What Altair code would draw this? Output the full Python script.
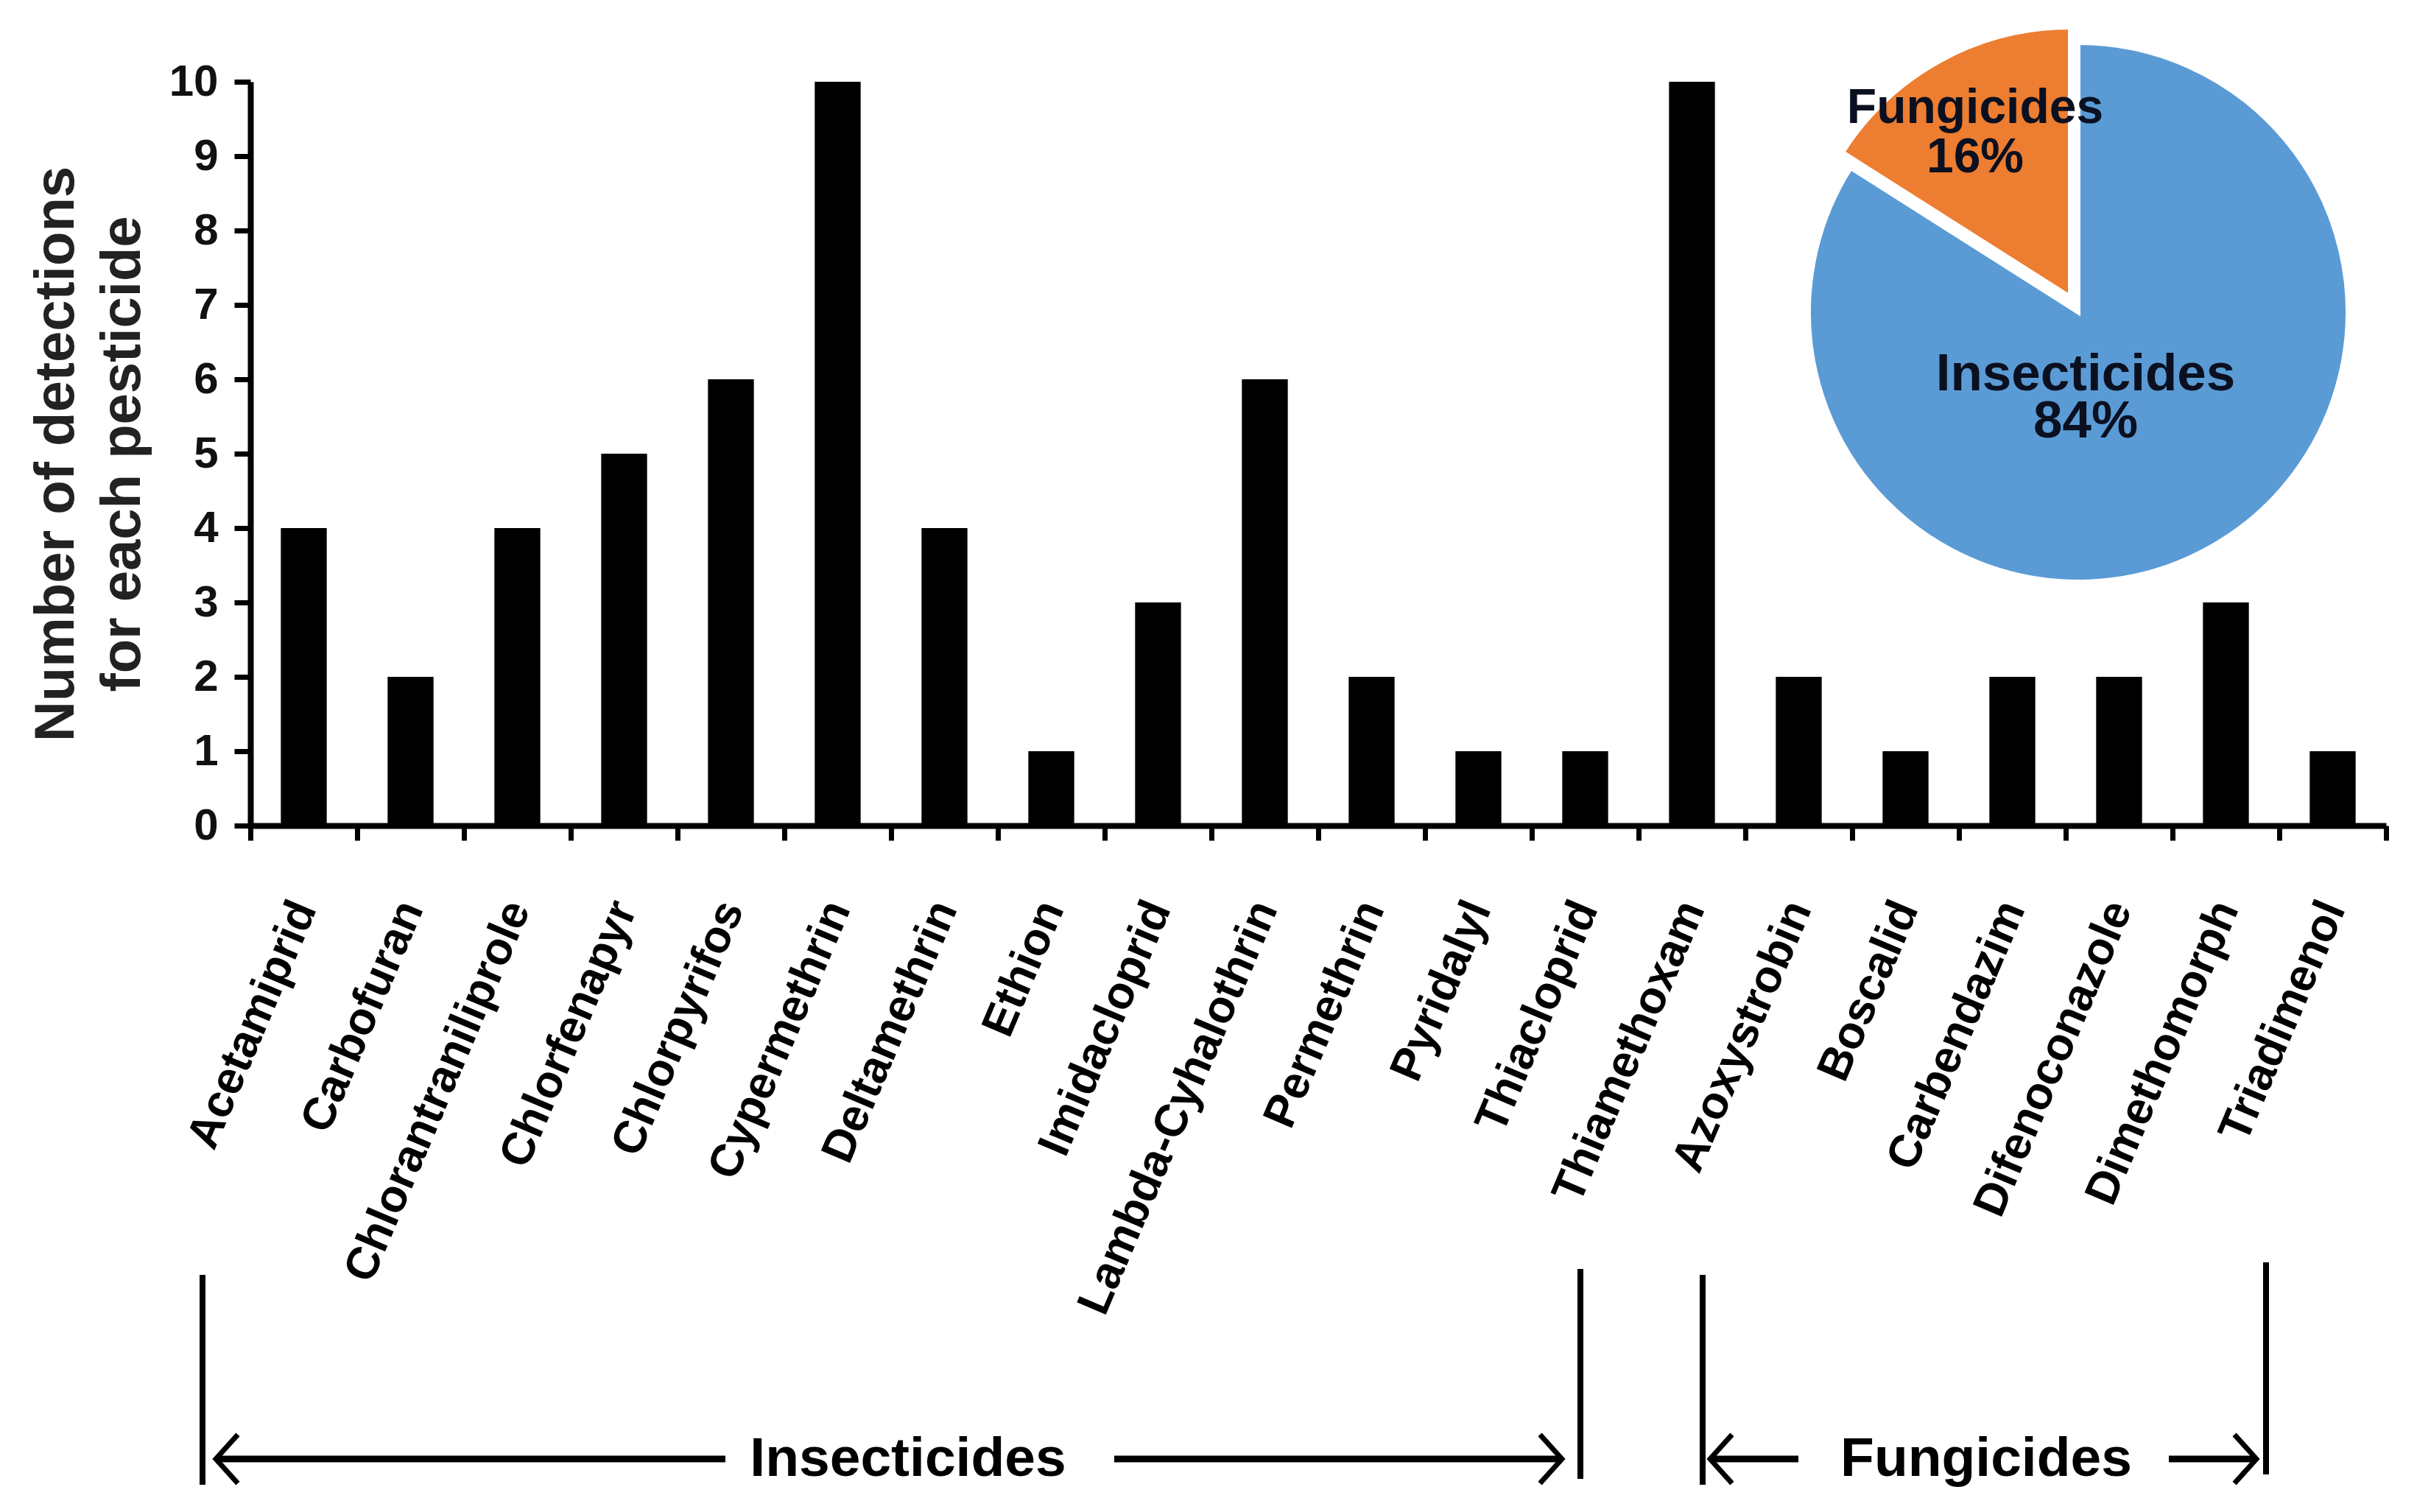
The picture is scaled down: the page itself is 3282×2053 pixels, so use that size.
import altair as alt
import pandas as pd

# ---------------- data ----------------
pesticides = ["Acetamiprid", "Carbofuran", "Chlorantraniliprole", "Chlorfenapyr",
              "Chlorpyrifos", "Cypermethrin", "Deltamethrin", "Ethion", "Imidacloprid",
              "Lambda-Cyhalothrin", "Permethrin", "Pyridalyl", "Thiacloprid",
              "Thiamethoxam", "Azoxystrobin", "Boscalid", "Carbendazim",
              "Difenoconazole", "Dimethomorph", "Triadimenol"]
detections = [4, 2, 4, 5, 6, 10, 4, 1, 3, 6, 2, 1, 1, 10, 2, 1, 2, 2, 3, 1]
y_ticks = list(range(0, 11))

pie_groups = ["Insecticides", "Fungicides"]
pie_percent = [84, 16]
pie_colors = ["#5B9BD5", "#ED7D31"]

group_labels = ["Insecticides", "Fungicides"]

# ---------------- layout (pixels, relative to plot origin) ----------------
W, H = 2900, 1010
FONT = "Liberation Sans"
NARROW = "Liberation Sans Narrow, Arial Narrow, Liberation Sans"

bar_df = pd.DataFrame({"pesticide": pesticides, "detections": detections})

bars = alt.Chart(bar_df).mark_bar(color="black", width=alt.RelativeBandSize(0.43)).encode(
    x=alt.X("pesticide:N", sort=pesticides, title=None,
            scale=alt.Scale(paddingInner=0, paddingOuter=0),
            axis=alt.Axis(labelAngle=293, labelFontSize=62, labelFontWeight="bold",
                          labelFont=FONT, labelColor="black", labelLimit=0,
                          labelPadding=85, tickBand="extent", tickSize=20,
                          tickWidth=7, tickColor="black", domainColor="black",
                          domainWidth=8, grid=False)),
    y=alt.Y("detections:Q", scale=alt.Scale(domain=[0, 10], nice=False),
            axis=alt.Axis(values=y_ticks, title=["Number of detections", "for each pesticide"],
                          titleFontSize=76, titleFont=FONT, titleFontWeight="bold",
                          titleColor="#222", titleLineHeight=90, titlePadding=24,
                          labelFontSize=60, labelFont=FONT, labelFontWeight="bold",
                          labelColor="#111", labelPadding=22, tickSize=22, tickWidth=7,
                          tickColor="black", domainColor="black", domainWidth=8,
                          grid=False)),
)

# ---------------- bracket annotations below the axis ----------------
bracket_df = pd.DataFrame({
    "x": [-65, 1806, 1972, 2737],
    "y": [1620, 1612, 1620, 1603],
    "y2": [1905, 1897, 1905, 1891],
})
brackets = alt.Chart(bracket_df).mark_rule(color="black", strokeWidth=8).encode(
    x=alt.X("x:Q", scale=None, axis=None),
    y=alt.Y("y:Q", scale=None, axis=None),
    y2="y2:Q",
)

shaft_df = pd.DataFrame({
    "x": [-44, 1173, 1985, 2605],
    "x2": [645, 1778, 2102, 2721],
    "y": [1870, 1870, 1870, 1870],
})
shafts = alt.Chart(shaft_df).mark_rule(color="black", strokeWidth=9).encode(
    x=alt.X("x:Q", scale=None, axis=None),
    x2="x2:Q",
    y=alt.Y("y:Q", scale=None, axis=None),
)

left_head_df = pd.DataFrame({"x": [-32, 1997], "y": [1870, 1870]})
right_head_df = pd.DataFrame({"x": [1766, 2709], "y": [1870, 1870]})
left_heads = alt.Chart(left_head_df).mark_point(
    shape="M0.45,-1L-0.45,0L0.45,1", size=4400, filled=False,
    stroke="black", strokeWidth=7, opacity=1).encode(
    x=alt.X("x:Q", scale=None, axis=None),
    y=alt.Y("y:Q", scale=None, axis=None),
)
right_heads = alt.Chart(right_head_df).mark_point(
    shape="M-0.45,-1L0.45,0L-0.45,1", size=4400, filled=False,
    stroke="black", strokeWidth=7, opacity=1).encode(
    x=alt.X("x:Q", scale=None, axis=None),
    y=alt.Y("y:Q", scale=None, axis=None),
)

group_df = pd.DataFrame({"label": group_labels, "x": [893, 2357], "y": [1870, 1870]})
group_text = alt.Chart(group_df).mark_text(
    font=NARROW, fontSize=75, fontWeight="bold", color="black",
    align="center", baseline="middle").encode(
    x=alt.X("x:Q", scale=None, axis=None),
    y=alt.Y("y:Q", scale=None, axis=None),
    text="label:N",
)

# ---------------- inset pie ----------------
pie_df = pd.DataFrame({"group": pie_groups, "pct": pie_percent,
                       "order": list(range(len(pie_groups)))})
pie_base = alt.Chart(pie_df).transform_window(
    cum="sum(pct)", sort=[alt.SortField("order")], frame=[None, 0]
).transform_calculate(
    t1="datum.cum / 100 * 2 * PI",
    t0="(datum.cum - datum.pct) / 100 * 2 * PI",
    label="[datum.group, datum.pct + '%']",
)

CX, CY, R = 2482, 313, 366
color_scale = alt.Scale(domain=pie_groups, range=pie_colors)

pie_main = pie_base.transform_filter(alt.datum.group == "Insecticides").mark_arc(
    outerRadius=R, stroke="white", strokeWidth=6).encode(
    theta=alt.Theta("t0:Q", scale=None),
    theta2="t1:Q",
    color=alt.Color("group:N", scale=color_scale, legend=None),
    x=alt.value(CX), y=alt.value(CY),
)
pie_slice = pie_base.transform_filter(alt.datum.group == "Fungicides").mark_arc(
    outerRadius=R, stroke="white", strokeWidth=6, xOffset=-11, yOffset=-21).encode(
    theta=alt.Theta("t0:Q", scale=None),
    theta2="t1:Q",
    color=alt.Color("group:N", scale=color_scale, legend=None),
    x=alt.value(CX), y=alt.value(CY),
)

pie_text_ins = pie_base.transform_filter(alt.datum.group == "Insecticides").mark_text(
    font=FONT, fontSize=71, fontWeight="bold", color="#0b1020", lineHeight=64,
    align="center", baseline="middle").encode(
    text="label:N", x=alt.value(2492), y=alt.value(398))
pie_text_fun = pie_base.transform_filter(alt.datum.group == "Fungicides").mark_text(
    font=FONT, fontSize=66, fontWeight="bold", color="#0b1020", lineHeight=67,
    align="center", baseline="middle").encode(
    text="label:N", x=alt.value(2342), y=alt.value(36))

chart = alt.layer(
    bars, brackets, shafts, left_heads, right_heads, group_text,
    pie_main, pie_slice, pie_text_ins, pie_text_fun,
).properties(
    width=W, height=H,
    autosize=alt.AutoSizeParams(type="none"),
    padding={"left": 332, "top": 103, "right": 30, "bottom": 920},
    background="white",
).configure_view(stroke=None)

chart.save("out.html", embed_options={"renderer": "svg", "actions": False})
